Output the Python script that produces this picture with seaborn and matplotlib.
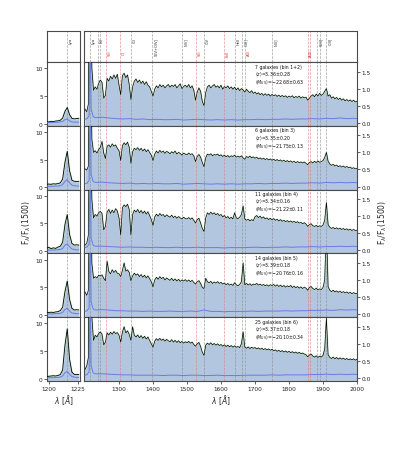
import numpy as np
import pandas as pd
import matplotlib
matplotlib.use('Agg')
import matplotlib.pyplot as plt
import seaborn as sns

sns.set_theme(style='white')
plt.rcParams['font.family'] = ['DejaVu Sans']
plt.rcParams['mathtext.fontset'] = 'dejavusans'

# ---------------- data ----------------
wave = list(range(1200, 2005, 5))           # main-panel sampling grid [A]
wave_err = [1200, 1206, 1212, 1215, 1218, 1224, 1230] + list(range(1250, 2000, 20)) + [2000]
wave_lya = list(range(1198, 1228, 2))       # Ly-alpha zoom panel grid

bin_names = ['7 galaxies (bin 1+2)', '6 galaxies (bin 3)', '11 galaxies (bin 4)',
             '14 galaxies (bin 5)', '25 galaxies (bin 6)']
z_mean = ['3.36', '3.35', '3.34', '3.39', '3.37']
z_std = ['0.28', '0.20', '0.16', '0.18', '0.18']
muv_mean = ['22.68', '21.75', '21.22', '20.76', '20.10']
muv_std = ['0.63', '0.13', '0.11', '0.16', '0.34']

flux_b12 = [
    0.40, 0.32, 0.55, 8.00, 1.60, 0.95, 1.05, 0.98, 1.15, 1.25,
    1.18, 0.72, 0.80, 1.30, 1.22, 1.36, 1.28, 1.40, 1.30, 1.42,
    1.10, 0.82, 1.38, 1.45, 1.32, 1.40, 1.12, 0.68, 1.05, 1.22,
    1.28, 1.18, 1.25, 1.15, 1.22, 1.12, 1.20, 1.10, 1.05, 0.92,
    0.78, 0.98, 1.08, 1.02, 1.12, 1.05, 1.10, 1.02, 1.08, 1.12,
    1.04, 1.10, 1.06, 1.12, 1.02, 1.08, 1.14, 1.00, 1.06, 1.10,
    1.04, 1.12, 1.02, 1.08, 0.95, 0.66, 0.90, 1.02, 0.92, 0.62,
    0.50, 0.88, 1.05, 1.10, 1.02, 1.08, 1.12, 1.04, 1.08, 1.02,
    1.10, 0.98, 1.06, 1.02, 1.08, 1.00, 1.05, 0.98, 1.04, 0.96,
    1.02, 0.94, 1.00, 0.96, 0.90, 0.98, 0.92, 0.88, 0.94, 0.86,
    0.90, 0.84, 0.88, 0.82, 0.86, 0.80, 0.85, 0.80, 0.84, 0.78,
    0.83, 0.79, 0.82, 0.77, 0.81, 0.76, 0.80, 0.76, 0.79, 0.74,
    0.78, 0.75, 0.79, 0.73, 0.77, 0.74, 0.78, 0.72, 0.76, 0.73,
    0.75, 0.66, 0.72, 0.78, 0.82, 0.76, 0.84, 0.78, 0.86, 0.80,
    0.84, 0.92, 1.00, 0.78, 0.82, 0.72, 0.76, 0.70, 0.74, 0.68,
    0.72, 0.66, 0.70, 0.64, 0.68, 0.63, 0.67, 0.62, 0.66, 0.61,
    0.63]
flux_b3 = [
    0.52, 0.48, 0.60, 7.00, 1.40, 1.00, 1.05, 0.98, 1.08, 1.15,
    1.32, 0.98, 0.82, 1.18, 1.22, 1.15, 1.25, 1.18, 1.22, 1.12,
    1.05, 0.76, 1.20, 1.28, 1.22, 1.30, 1.15, 0.68, 1.02, 1.12,
    1.08, 1.14, 1.06, 1.12, 1.04, 1.10, 1.02, 1.08, 1.00, 0.92,
    0.76, 0.95, 1.04, 0.98, 1.06, 1.00, 1.04, 0.97, 1.03, 1.00,
    0.96, 1.02, 0.98, 1.04, 0.95, 1.00, 0.97, 0.92, 0.98, 0.95,
    0.93, 0.98, 0.94, 0.96, 0.90, 0.73, 0.88, 0.94, 0.86, 0.70,
    0.58, 0.84, 0.95, 0.92, 0.96, 0.90, 0.94, 0.92, 0.95, 0.90,
    0.93, 0.88, 0.92, 0.87, 0.91, 0.86, 0.90, 0.88, 0.92, 0.86,
    0.89, 0.86, 0.90, 0.84, 0.80, 0.88, 0.85, 0.89, 0.84, 0.87,
    0.83, 0.86, 0.81, 0.84, 0.80, 0.83, 0.79, 0.82, 0.78, 0.81,
    0.77, 0.80, 0.76, 0.79, 0.75, 0.78, 0.74, 0.77, 0.73, 0.76,
    0.72, 0.75, 0.71, 0.74, 0.70, 0.73, 0.70, 0.72, 0.69, 0.72,
    0.68, 0.64, 0.70, 0.73, 0.69, 0.74, 0.70, 0.75, 0.71, 0.73,
    0.76, 0.85, 1.00, 0.74, 0.66, 0.62, 0.65, 0.60, 0.63, 0.58,
    0.61, 0.57, 0.60, 0.56, 0.59, 0.55, 0.57, 0.53, 0.55, 0.52,
    0.53]
flux_b4 = [
    0.15, 0.20, 0.45, 7.00, 1.50, 0.95, 1.05, 1.00, 1.10, 1.14,
    1.08, 0.60, 0.70, 1.12, 1.20, 1.08, 1.18, 1.10, 1.22, 1.15,
    0.95, 0.45, 1.25, 1.33, 1.28, 1.35, 1.20, 0.45, 1.05, 1.18,
    1.12, 1.20, 1.10, 1.17, 1.08, 1.15, 1.06, 1.13, 1.02, 0.90,
    0.73, 0.98, 1.06, 1.00, 1.08, 1.02, 1.05, 0.98, 1.04, 1.00,
    0.97, 1.03, 0.96, 1.00, 0.94, 0.99, 0.95, 0.92, 0.97, 0.93,
    0.92, 0.96, 0.91, 0.95, 0.88, 0.80, 0.90, 0.94, 0.80, 0.64,
    0.55, 0.95, 1.10, 1.05, 1.12, 1.06, 1.10, 1.04, 1.08, 1.02,
    1.05, 0.98, 1.02, 0.95, 0.99, 0.93, 0.97, 0.92, 1.10, 0.95,
    0.93, 0.97, 1.05, 1.30, 0.92, 0.88, 0.91, 0.86, 0.90, 0.87,
    0.98, 1.02, 0.96, 1.00, 0.94, 0.98, 0.92, 0.95, 0.90, 0.94,
    0.89, 0.93, 0.88, 0.91, 0.86, 0.90, 0.85, 0.88, 0.84, 0.87,
    0.83, 0.86, 0.82, 0.85, 0.81, 0.84, 0.80, 0.82, 0.78, 0.81,
    0.77, 0.70, 0.75, 0.78, 0.72, 0.70, 0.73, 0.69, 0.72, 0.70,
    0.74, 0.88, 1.40, 0.75, 0.68, 0.64, 0.67, 0.63, 0.66, 0.62,
    0.65, 0.61, 0.64, 0.60, 0.63, 0.59, 0.62, 0.58, 0.61, 0.58,
    0.59]
flux_b5 = [
    0.65, 0.55, 0.70, 6.50, 1.50, 1.05, 1.10, 1.06, 1.14, 1.12,
    1.15, 1.05, 0.98, 1.55, 1.25, 1.18, 1.30, 1.22, 1.28, 1.20,
    1.18, 1.10, 1.28, 1.50, 1.26, 1.30, 1.22, 0.98, 1.12, 1.20,
    1.14, 1.18, 1.10, 1.16, 1.08, 1.14, 1.06, 1.12, 1.04, 0.95,
    0.80, 1.00, 1.08, 1.02, 1.10, 1.04, 1.08, 1.00, 1.06, 1.02,
    0.99, 1.05, 0.98, 1.03, 0.97, 1.02, 0.96, 1.00, 0.97, 1.01,
    0.96, 1.00, 0.95, 0.99, 0.93, 0.88, 0.95, 0.98, 0.90, 0.78,
    0.75, 1.05, 0.95, 0.92, 0.96, 0.90, 0.94, 0.91, 0.95, 0.90,
    0.93, 0.88, 0.91, 0.86, 0.90, 0.85, 0.88, 0.84, 0.92, 0.86,
    0.83, 0.87, 0.95, 1.50, 0.86, 0.90, 0.85, 0.89, 0.84, 0.88,
    0.86, 0.90, 0.85, 0.88, 0.84, 0.87, 0.83, 0.86, 0.82, 0.86,
    0.84, 0.87, 0.82, 0.86, 0.81, 0.85, 0.80, 0.84, 0.79, 0.83,
    0.80, 0.84, 0.78, 0.82, 0.77, 0.81, 0.76, 0.80, 0.75, 0.79,
    0.76, 0.70, 0.78, 0.81, 0.75, 0.72, 0.76, 0.71, 0.74, 0.72,
    0.78, 1.00, 2.60, 0.80, 0.70, 0.66, 0.70, 0.65, 0.68, 0.64,
    0.67, 0.63, 0.66, 0.62, 0.65, 0.61, 0.64, 0.60, 0.63, 0.60,
    0.61]
flux_b6 = [
    0.25, 0.35, 0.60, 9.00, 1.80, 1.10, 1.25, 1.20, 1.30, 1.35,
    1.28, 0.97, 1.05, 1.32, 1.26, 1.34, 1.28, 1.36, 1.30, 1.33,
    1.25, 1.05, 1.35, 1.50, 1.32, 1.38, 1.28, 1.10, 1.50, 1.25,
    1.20, 1.26, 1.18, 1.24, 1.16, 1.22, 1.14, 1.20, 1.10, 1.00,
    0.90, 1.08, 1.15, 1.10, 1.16, 1.10, 1.14, 1.08, 1.13, 1.09,
    1.06, 1.12, 1.05, 1.10, 1.04, 1.09, 1.03, 1.07, 1.02, 1.06,
    1.03, 1.07, 1.02, 1.05, 0.98, 0.93, 1.00, 1.04, 0.92, 0.75,
    0.66, 0.96, 1.02, 0.98, 1.03, 0.97, 1.01, 0.96, 1.00, 0.95,
    0.98, 0.93, 0.97, 0.92, 0.96, 0.91, 0.95, 0.90, 0.94, 0.90,
    0.92, 0.89, 1.00, 1.35, 0.90, 0.87, 0.91, 0.86, 0.90, 0.87,
    0.89, 0.85, 0.88, 0.84, 0.87, 0.83, 0.86, 0.82, 0.85, 0.81,
    0.84, 0.80, 0.82, 0.78, 0.81, 0.77, 0.80, 0.76, 0.79, 0.75,
    0.78, 0.74, 0.77, 0.73, 0.76, 0.72, 0.75, 0.71, 0.73, 0.70,
    0.68, 0.62, 0.67, 0.70, 0.64, 0.61, 0.65, 0.60, 0.64, 0.61,
    0.66, 0.85, 1.75, 0.68, 0.60, 0.57, 0.61, 0.56, 0.60, 0.55,
    0.59, 0.55, 0.58, 0.54, 0.57, 0.53, 0.56, 0.53, 0.56, 0.52,
    0.55]

err_b12 = [0.10, 0.12, 0.20, 3.00, 0.40, 0.18, 0.15,
           0.16, 0.14, 0.12, 0.11, 0.12, 0.10, 0.11, 0.09, 0.10, 0.09,
           0.09, 0.10, 0.08, 0.09, 0.10, 0.09, 0.08, 0.09, 0.08, 0.09,
           0.08, 0.09, 0.09, 0.10, 0.09, 0.10, 0.10, 0.11, 0.10, 0.11,
           0.11, 0.12, 0.11, 0.13, 0.12, 0.14, 0.12, 0.13, 0.12]
err_b3 = [0.08, 0.10, 0.18, 3.00, 0.35, 0.15, 0.12,
          0.13, 0.11, 0.10, 0.09, 0.10, 0.08, 0.09, 0.08, 0.09, 0.08,
          0.08, 0.09, 0.07, 0.08, 0.09, 0.08, 0.07, 0.08, 0.07, 0.08,
          0.07, 0.08, 0.08, 0.09, 0.08, 0.09, 0.09, 0.10, 0.09, 0.10,
          0.10, 0.11, 0.10, 0.12, 0.11, 0.12, 0.11, 0.12, 0.11]
err_b4 = [0.08, 0.10, 0.18, 3.00, 0.35, 0.15, 0.12,
          0.12, 0.11, 0.10, 0.09, 0.10, 0.09, 0.09, 0.08, 0.09, 0.08,
          0.08, 0.09, 0.08, 0.08, 0.09, 0.08, 0.08, 0.08, 0.07, 0.08,
          0.08, 0.08, 0.09, 0.09, 0.08, 0.09, 0.09, 0.10, 0.09, 0.10,
          0.10, 0.11, 0.10, 0.11, 0.11, 0.12, 0.11, 0.12, 0.11]
err_b5 = [0.08, 0.10, 0.18, 3.00, 0.35, 0.15, 0.12,
          0.13, 0.12, 0.10, 0.10, 0.09, 0.09, 0.08, 0.09, 0.08, 0.08,
          0.09, 0.08, 0.08, 0.09, 0.08, 0.12, 0.08, 0.08, 0.07, 0.08,
          0.08, 0.08, 0.09, 0.08, 0.09, 0.09, 0.09, 0.10, 0.09, 0.10,
          0.10, 0.11, 0.11, 0.12, 0.11, 0.13, 0.12, 0.13, 0.12]
err_b6 = [0.08, 0.10, 0.18, 3.00, 0.35, 0.15, 0.12,
          0.12, 0.11, 0.10, 0.09, 0.09, 0.08, 0.08, 0.08, 0.08, 0.07,
          0.08, 0.08, 0.07, 0.08, 0.08, 0.07, 0.07, 0.08, 0.07, 0.07,
          0.07, 0.08, 0.08, 0.08, 0.08, 0.09, 0.08, 0.09, 0.09, 0.09,
          0.09, 0.10, 0.10, 0.11, 0.10, 0.11, 0.10, 0.11, 0.10]

lya_flux_b12 = [0.35, 0.30, 0.40, 0.35, 0.45, 0.50, 0.60, 1.00, 2.20, 2.90, 1.60, 0.95, 0.85, 0.90, 0.95]
lya_flux_b3 = [0.55, 0.60, 0.55, 0.65, 0.60, 0.70, 0.80, 1.50, 4.50, 6.50, 3.00, 1.30, 1.10, 1.05, 1.10]
lya_flux_b4 = [0.50, 0.70, 0.45, 0.60, 0.50, 0.75, 0.90, 1.60, 4.80, 6.60, 3.00, 1.40, 1.10, 1.15, 1.10]
lya_flux_b5 = [0.40, 0.45, 0.50, 0.45, 0.55, 0.60, 0.80, 1.40, 4.20, 6.10, 2.80, 1.20, 0.90, 0.95, 0.90]
lya_flux_b6 = [0.40, 0.45, 0.50, 0.55, 0.50, 0.60, 0.75, 1.60, 6.00, 9.00, 3.50, 1.20, 0.80, 0.75, 0.80]

lya_err_b12 = [0.20, 0.20, 0.20, 0.20, 0.25, 0.25, 0.30, 0.40, 0.70, 0.80, 0.50, 0.30, 0.25, 0.25, 0.25]
lya_err_b3 = [0.20, 0.20, 0.20, 0.20, 0.25, 0.25, 0.30, 0.50, 1.10, 1.40, 0.80, 0.40, 0.30, 0.25, 0.25]
lya_err_b4 = [0.20, 0.20, 0.20, 0.20, 0.25, 0.25, 0.30, 0.50, 1.10, 1.30, 0.80, 0.40, 0.30, 0.25, 0.25]
lya_err_b5 = [0.20, 0.20, 0.20, 0.20, 0.25, 0.25, 0.30, 0.45, 1.00, 1.20, 0.70, 0.35, 0.30, 0.25, 0.25]
lya_err_b6 = [0.20, 0.20, 0.20, 0.20, 0.25, 0.25, 0.30, 0.50, 1.10, 1.30, 0.80, 0.40, 0.30, 0.25, 0.25]

flux_main = [flux_b12, flux_b3, flux_b4, flux_b5, flux_b6]
err_main = [err_b12, err_b3, err_b4, err_b5, err_b6]
flux_lya = [lya_flux_b12, lya_flux_b3, lya_flux_b4, lya_flux_b5, lya_flux_b6]
err_lya = [lya_err_b12, lya_err_b3, lya_err_b4, lya_err_b5, lya_err_b6]

em_lines = [1215.67, 1238.8, 1242.8, 1334.5, 1397.0, 1486.5, 1549.0, 1640.4, 1663.0, 1750.0, 1882.7, 1892.0, 1908.7]
em_labels = ['Ly\u03b1', 'NV', '', 'CII', 'SiIV+OIV]', 'NIV]', 'CIV', 'HeII', 'OIII]', 'NIII]', 'SiIII]', '', 'CIII]']
abs_lines = [1260.4, 1303.3, 1526.7, 1608.5, 1670.8, 1854.7, 1862.8]
abs_labels = ['SiII', 'OI', 'SiII', 'FeII', 'AlII', 'AlIII', '']

# ---------------- styling ----------------
FILL = '#b3c6e0'
ERRC = '#5b6ee8'
GREEN = '#bfe6bf'
SPINE = '#4a4a4a'
GRAYL = '#8c8c8c'
REDL = '#e07b7b'

W, H = 395.0, 460.0
fig = plt.figure(figsize=(W / 100, H / 100), dpi=100)

lx0, lw_ = 47 / W, 33 / W
mx0, mw_ = 84 / W, 273 / W
top_px, hdr_px = 32.0, 31.0
pan_px = 63.8

def frame(ax):
    for s in ax.spines.values():
        s.set_color(SPINE)
        s.set_linewidth(0.8)

MAIN_XLIM = (1197, 2000)
LYA_XLIM = (1198.5, 1227)

# header rows
hl = fig.add_axes([lx0, 1 - (top_px + hdr_px) / H, lw_, hdr_px / H])
hm = fig.add_axes([mx0, 1 - (top_px + hdr_px) / H, mw_, hdr_px / H])
for hax, xlim in ((hl, LYA_XLIM), (hm, MAIN_XLIM)):
    hax.set_xlim(*xlim)
    hax.set_ylim(0, 1)
    hax.set_xticks([])
    hax.set_yticks([])
    frame(hax)
    for lam, lab in zip(em_lines, em_labels):
        if xlim[0] < lam < xlim[1]:
            hax.axvline(lam, color=GRAYL, ls='--', lw=0.5, alpha=0.8)
            if lab:
                off = 1.3 if hax is hl else 5
                hax.text(lam + off, 0.80, lab, rotation=90, fontsize=2.6, color='#333333',
                         ha='left', va='top')
    for lam, lab in zip(abs_lines, abs_labels):
        if xlim[0] < lam < xlim[1]:
            hax.axvline(lam, color=REDL, ls='--', lw=0.5, alpha=0.8)
            if lab:
                hax.text(lam + 5, 0.40, lab, rotation=90, fontsize=2.6, color='#d03030',
                         ha='left', va='top')

for k in range(5):
    y0 = 1 - (top_px + hdr_px + pan_px * (k + 1)) / H
    h = pan_px / H
    axl = fig.add_axes([lx0, y0, lw_, h])
    axm = fig.add_axes([mx0, y0, mw_, h])

    # --- Ly-alpha zoom panel ---
    axl.fill_between(wave_lya, -5, flux_lya[k], color=FILL, lw=0, zorder=1)
    axl.axvline(1215.67, color=GRAYL, ls='--', lw=0.5, alpha=0.8, zorder=1.5)
    sns.lineplot(x=wave_lya, y=flux_lya[k], ax=axl, color=GREEN, lw=1.4, alpha=0.6,
                 estimator=None, sort=False, zorder=2)
    sns.lineplot(x=wave_lya, y=flux_lya[k], ax=axl, color='black', lw=0.6,
                 estimator=None, sort=False, zorder=3)
    sns.lineplot(x=wave_lya, y=err_lya[k], ax=axl, color=ERRC, lw=0.7, alpha=0.85,
                 estimator=None, sort=False, zorder=4)
    axl.set_xlim(*LYA_XLIM)
    axl.set_ylim(-0.4, 11.1)
    axl.set_yticks([0, 5, 10])
    axl.set_xticks([1200, 1225])
    axl.tick_params(axis='y', left=True, labelsize=4.2, length=2, width=0.5, pad=1, colors='#222222')
    if k == 4:
        axl.tick_params(axis='x', bottom=True, labelbottom=True, labelsize=4.2, length=2, width=0.5, pad=1.5)
        axl.set_xlabel(r'$\lambda\ [\AA]$', fontsize=5.5, labelpad=1)
    else:
        axl.tick_params(axis='x', bottom=False, labelbottom=False)
        axl.set_xlabel('')
    axl.set_ylabel('')
    if k == 2:
        axl.set_ylabel(r'F$_\lambda$/F$_\lambda$(1500)', fontsize=5.5, labelpad=2)
    frame(axl)

    # --- main panel ---
    axm.fill_between(wave, -5, flux_main[k], color=FILL, lw=0, zorder=1)
    for lam in em_lines:
        axm.axvline(lam, color=GRAYL, ls='--', lw=0.5, alpha=0.8, zorder=1.5)
    for lam in abs_lines:
        axm.axvline(lam, color=REDL, ls='--', lw=0.5, alpha=0.8, zorder=1.5)
    sns.lineplot(x=wave, y=flux_main[k], ax=axm, color=GREEN, lw=1.3, alpha=0.6,
                 estimator=None, sort=False, zorder=2)
    sns.lineplot(x=wave, y=flux_main[k], ax=axm, color='black', lw=0.5,
                 estimator=None, sort=False, zorder=3)
    sns.lineplot(x=wave_err, y=err_main[k], ax=axm, color=ERRC, lw=0.7, alpha=0.85,
                 estimator=None, sort=False, zorder=4)
    axm.set_xlim(*MAIN_XLIM)
    axm.set_ylim(-0.09, 1.78)
    axm.yaxis.tick_right()
    axm.set_yticks([0.0, 0.5, 1.0, 1.5])
    axm.set_yticklabels(['0.0', '0.5', '1.0', '1.5'])
    axm.tick_params(axis='y', right=True, left=False, labelright=True, labelleft=False,
                    labelsize=4.2, length=2, width=0.5, pad=1.5, colors='#222222')
    axm.set_xticks([1300, 1400, 1500, 1600, 1700, 1800, 1900, 2000])
    if k == 4:
        axm.tick_params(axis='x', bottom=True, labelbottom=True, labelsize=4.2, length=2, width=0.5, pad=1.5)
        axm.set_xlabel(r'$\lambda\ [\AA]$', fontsize=5.5, labelpad=1)
    else:
        axm.tick_params(axis='x', bottom=False, labelbottom=False)
        axm.set_xlabel('')
    axm.set_ylabel('')
    if k == 2:
        axm.yaxis.set_label_position('right')
        axm.set_ylabel(r'F$_\lambda$/F$_\lambda$(1500)', fontsize=5.5, labelpad=4)
    txt = (bin_names[k] + '\n' +
           r'$\langle z\rangle$=' + z_mean[k] + r'$\pm$' + z_std[k] + '\n' +
           r'$\langle M_{\rm UV}\rangle$=$-$' + muv_mean[k] + r'$\pm$' + muv_std[k])
    axm.text(0.627, 0.975, txt, transform=axm.transAxes, fontsize=3.3, va='top', ha='left',
             linespacing=1.05, color='#111111', zorder=6)
    frame(axm)

fig.savefig('out.png', dpi=100)
